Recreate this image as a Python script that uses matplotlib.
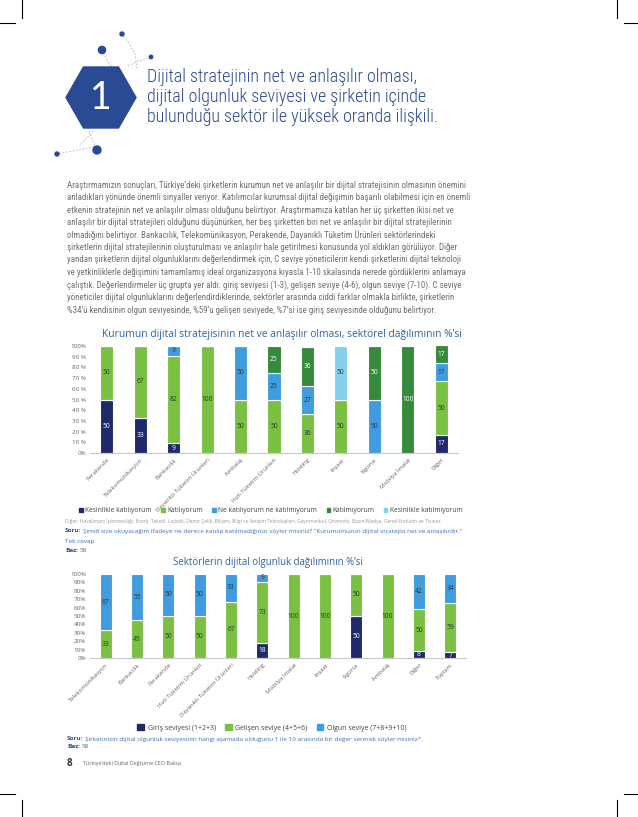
import matplotlib.pyplot as plt
import matplotlib.patches as mpatches
from matplotlib import font_manager
import numpy as np

W, H = 638, 817

# --- grafik 1: kurumun dijital stratejisi ---
sektor1 = ['Perakende', 'Telekomünikasyon', 'Bankacılık', 'Dayanıklı Tüketim Ürünleri', 'Ambalaj',
           'Hızlı Tüketim Ürünleri', 'Holding', 'İnşaat', 'Sigorta', 'Mobilya İmalat', 'Diğer']
kesinlikle_katiliyorum = [50, 33, 9, 0, 0, 0, 0, 0, 0, 0, 17]
katiliyorum = [50, 67, 82, 100, 50, 50, 36, 50, 0, 0, 50]
ne_ne = [0, 0, 9, 0, 50, 25, 27, 0, 50, 0, 17]
katilmiyorum = [0, 0, 0, 0, 0, 25, 36, 0, 50, 100, 17]
kesinlikle_katilmiyorum = [0, 0, 0, 0, 0, 0, 0, 50, 0, 0, 0]
seri1_ad = ['Kesinlikle katılıyorum', 'Katılıyorum', 'Ne katılıyorum ne katılmıyorum',
            'Katılmıyorum', 'Kesinlikle katılmıyorum']

# --- grafik 2: dijital olgunluk ---
sektor2 = ['Telekomünikasyon', 'Bankacılık', 'Perakende', 'Hızlı Tüketim Ürünleri',
           'Dayanıklı Tüketim Ürünleri', 'Holding', 'Mobilya İmalat', 'İnşaat', 'Sigorta',
           'Ambalaj', 'Diğer', 'Toplam']
giris = [0, 0, 0, 0, 0, 18, 0, 0, 50, 0, 8, 7]
gelisen = [33, 45, 50, 50, 67, 73, 100, 100, 50, 100, 50, 59]
olgun = [67, 55, 50, 50, 33, 9, 0, 0, 0, 0, 42, 34]
seri2_ad = ['Giriş seviyesi (1+2+3)', 'Gelişen seviye (4+5+6)', 'Olgun seviye (7+8+9+10)']

baslik = ['Dijital stratejinin net ve anlaşılır olması,',
          'dijital olgunluk seviyesi ve şirketin içinde',
          'bulunduğu sektör ile yüksek oranda ilişkili.']

paragraf = [
    "Araştırmamızın sonuçları, Türkiye’deki şirketlerin kurumun net ve anlaşılır bir dijital stratejisinin olmasının önemini",
    "anladıkları yönünde önemli sinyaller veriyor. Katılımcılar kurumsal dijital değişimin başarılı olabilmesi için en önemli",
    "etkenin stratejinin net ve anlaşılır olması olduğunu belirtiyor. Araştırmamıza katılan her üç şirketten ikisi net ve",
    "anlaşılır bir dijital stratejileri olduğunu düşünürken, her beş şirketten biri net ve anlaşılır bir dijital stratejilerinin",
    "olmadığını belirtiyor. Bankacılık, Telekomünikasyon, Perakende, Dayanıklı Tüketim Ürünleri sektörlerindeki",
    "şirketlerin dijital stratejilerinin oluşturulması ve anlaşılır hale getirilmesi konusunda yol aldıkları görülüyor. Diğer",
    "yandan şirketlerin dijital olgunluklarını değerlendirmek için, C seviye yöneticilerin kendi şirketlerini dijital teknoloji",
    "ve yetkinliklerle değişimini tamamlamış ideal organizasyona kıyasla 1-10 skalasında nerede gördüklerini anlamaya",
    "çalıştık. Değerlendirmeler üç grupta yer aldı: giriş seviyesi (1-3), gelişen seviye (4-6), olgun seviye (7-10). C seviye",
    "yöneticiler dijital olgunluklarını değerlendirdiklerinde, sektörler arasında ciddi farklar olmakla birlikte, şirketlerin",
    "%34’ü kendisinin olgun seviyesinde, %59’u gelişen seviyede, %7’si ise giriş seviyesinde olduğunu belirtiyor.",
]

navy = '#1f2a6b'
green = '#7ac143'
blue = '#3f9ddf'
dgreen = '#358a3c'
lblue = '#84cfee'
baslik_mavi = '#2d63a8'
koyu_mavi = '#2b4a94'
gri = '#666666'

mevcut = {f.name for f in font_manager.fontManager.ttflist}
dar = next((f for f in ['Liberation Sans Narrow', 'Roboto Condensed', 'Open Sans Condensed', 'Roboto']
            if f in mevcut), 'DejaVu Sans')
dar_aile = [dar, 'DejaVu Sans']

plt.rcParams['font.family'] = ['Open Sans', 'DejaVu Sans']

fig = plt.figure(figsize=(W / 100, H / 100), dpi=100)
bg = fig.add_axes([0, 0, 1, 1])
bg.set_xlim(0, W)
bg.set_ylim(H, 0)
bg.axis('off')
r = fig.canvas.get_renderer()


def genislik(s, boy, **kw):
    t = bg.text(0, 0, s, fontsize=boy, **kw)
    w = t.get_window_extent(r).width
    t.remove()
    return w


def sigdir(satirlar, hedef, boy, **kw):
    return boy * hedef / max(genislik(s, boy, **kw) for s in satirlar)


# kesim isaretleri
for xs, ys in [([22, 22], [0, 18]), ([0, 15], [23, 23]), ([617, 617], [0, 18]), ([624, 638], [23, 23]),
               ([0, 15], [794, 794]), ([22, 22], [800, 817]), ([617, 617], [800, 817]), ([624, 638], [794, 794])]:
    bg.plot(xs, ys, color='black', lw=0.8)

# baslik dekoru
for xs, ys in [([122, 128, 135, 137], [34, 42, 54, 70]), ([102, 106, 111], [50, 58, 66]),
               ([151, 139, 127], [57, 61, 66]), ([88, 92, 97], [128, 139, 150]),
               ([97, 78, 57], [146, 150, 154]), ([93, 87, 80], [131, 138, 145])]:
    bg.plot(xs, ys, color='#b5b5b5', lw=0.6, ls=(0, (2, 2)))
for (cx, cy, rr) in [(122, 34, 2.0), (102, 50, 3.6), (151, 57, 1.7), (97, 150, 4.0), (57, 154, 2.0)]:
    bg.add_patch(mpatches.Circle((cx, cy), rr, color=koyu_mavi, zorder=3))
hexa = [(66, 97.5), (83.5, 67), (118.5, 67), (136, 97.5), (118.5, 128), (83.5, 128)]
bg.add_patch(mpatches.Polygon(hexa, closed=True, color=koyu_mavi, zorder=3))
bg.text(101, 98, '1', color='white', fontsize=27, ha='center', va='center', zorder=4,
        family=['Lato', 'DejaVu Sans'])
bboy = sigdir(baslik[2:], 294, 12, family=dar_aile, fontweight='light')
for i, s in enumerate(baslik):
    bg.text(147, 77 + 20 * i, s, color=koyu_mavi, fontsize=bboy, va='center',
            family=dar_aile, fontweight='light')

# paragraf (sola yasli)
pkw = dict(color='#707070', family=dar_aile)
pboy = sigdir(paragraf[-1:], 371, 6, **pkw)
for i, s in enumerate(paragraf):
    bg.text(67, 185 + 12.5 * i, s, fontsize=pboy, va='center', **pkw)


def parca(x, y, parcalar, **kw):
    for s, renk, kalin in parcalar:
        t = bg.text(x, y, s, color=renk, fontweight='bold' if kalin else 'normal', va='center', **kw)
        x += t.get_window_extent(r).width + 1.5


def yigin(ax, seriler, renkler, yazi_renk, etiketler):
    x = np.arange(len(etiketler))
    alt = np.zeros(len(etiketler))
    for vals, c, tc in zip(seriler, renkler, yazi_renk):
        vals = np.array(vals)
        b = ax.bar(x, vals, bottom=alt, width=0.39, color=c, edgecolor='white', linewidth=0.8)
        ax.bar_label(b, labels=[str(v) if v else '' for v in vals], label_type='center',
                     fontsize=4.8, color=tc)
        alt += vals
    ax.set_xlim(-0.5, len(etiketler) - 0.5)
    ax.set_ylim(0, 100)
    ax.set_xticks(x)
    ax.set_xticklabels(etiketler, rotation=45, ha='right', rotation_mode='anchor',
                       fontsize=4.3, color=gri)
    for sp in ['top', 'right', 'left']:
        ax.spines[sp].set_visible(False)
    ax.spines['bottom'].set_color('#c8c8c8')
    ax.spines['bottom'].set_linewidth(0.8)
    ax.tick_params(length=0, pad=3)


# grafik 1
bg.text(282, 334, 'Kurumun dijital stratejisinin net ve anlaşılır olması, sektörel dağılımının %’si',
        color=baslik_mavi, fontsize=7.4, ha='center', va='center')
ax1 = fig.add_axes([90 / W, 1 - 453 / H, 368 / W, 107 / H])
yigin(ax1, [kesinlikle_katiliyorum, katiliyorum, ne_ne, katilmiyorum, kesinlikle_katilmiyorum],
      [navy, green, blue, dgreen, lblue], ['white', '#333333', '#333333', 'white', '#333333'], sektor1)
ax1.set_yticks(range(0, 101, 10))
ax1.set_yticklabels(['0%'] + [f'{v} %' for v in range(10, 100, 10)] + ['100%'], fontsize=4.5, color=gri)

h1 = [mpatches.Patch(color=c) for c in [navy, green, blue, dgreen, lblue]]
fig.legend(h1, seri1_ad, loc='center', bbox_to_anchor=(271 / W, 1 - 511 / H), ncol=5, frameon=False,
           fontsize=4.8, handlelength=0.5, handleheight=0.5, handletextpad=0.4, columnspacing=1.4,
           labelcolor='#444444')
bg.text(65, 521, 'Diğer: Havalimanı İşletmeciliği, Enerji, Tekstil, Lojistik, Demir Çelik, Bilişim, '
        'Bilgi ve İletişim Teknolojileri, Gayrimenkul, Otomotiv, Basın/Medya, Genel Endüstri ve Ticaret',
        fontsize=3.55, color='#999999', va='center')
parca(65, 531, [('Soru:', koyu_mavi, True),
                ('Şimdi size okuyacağım ifadeye ne derece katılıp katılmadığınızı söyler misiniz? '
                 '"Kurumumuzun dijital stratejisi net ve anlaşılırdır."', '#3a72b8', False)], fontsize=4.6)
bg.text(65, 541, 'Tek cevap', fontsize=4.6, color='#3a72b8', va='center')
parca(65, 550, [('Baz:', koyu_mavi, True), ('58', '#3a72b8', False)], fontsize=4.6)

# grafik 2
bg.text(268, 563, 'Sektörlerin dijital olgunluk dağılımının %’si', color=baslik_mavi, fontsize=6.9,
        ha='center', va='center')
ax2 = fig.add_axes([90 / W, 1 - 658 / H, 376 / W, 84 / H])
yigin(ax2, [giris, gelisen, olgun], [navy, green, blue], ['white', '#333333', '#333333'], sektor2)
ax2.set_yticks(range(0, 101, 10))
ax2.set_yticklabels([f'{v}%' for v in range(0, 101, 10)], fontsize=4.5, color=gri)

h2 = [mpatches.Patch(color=c) for c in [navy, green, blue]]
fig.legend(h2, seri2_ad, loc='center', bbox_to_anchor=(272 / W, 1 - 728 / H), ncol=3, frameon=False,
           fontsize=5.0, handlelength=1.0, handleheight=1.0, handletextpad=0.5, columnspacing=1.3,
           labelcolor='#444444')
parca(67, 739, [('Soru:', koyu_mavi, True),
                ('Şirketinizin dijital olgunluk seviyesinin hangi aşamada olduğunu 1 ile 10 arasında '
                 'bir değer vererek söyler misiniz?', '#3a72b8', False)], fontsize=4.6)
parca(67, 747, [('Baz:', koyu_mavi, True), ('58', '#3a72b8', False)], fontsize=4.6)

bg.text(67, 763, '8', fontsize=7, fontweight='bold', color='#333333', va='center')
bg.text(83, 763, 'Türkiye’deki Dijital Değişime CEO Bakışı', fontsize=3.9, color=gri, va='center')

fig.savefig('out.png', dpi=100)
